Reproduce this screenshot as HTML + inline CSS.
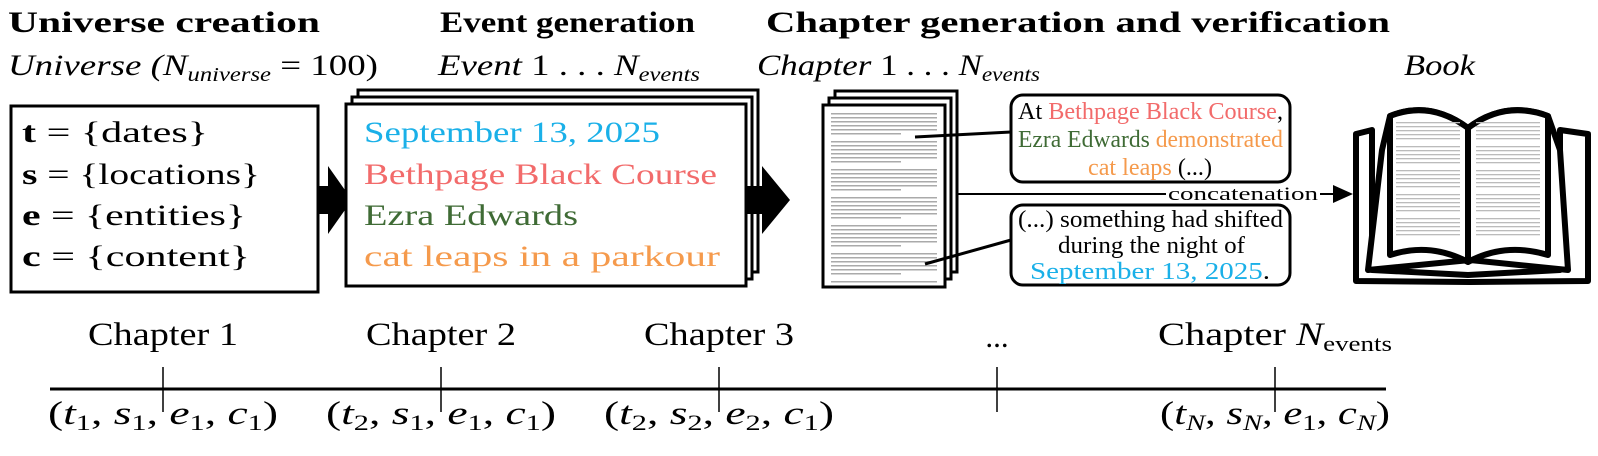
<!DOCTYPE html>
<html><head><meta charset="utf-8"><style>
html,body{margin:0;padding:0;background:#fff;}
svg{display:block;font-family:"Liberation Serif",serif;}
</style></head><body>
<svg id="fig" width="1598" height="456" viewBox="0 0 1598 456">
<g font-weight="bold" font-size="30" fill="#000">
<text x="8" y="32" textLength="312" lengthAdjust="spacingAndGlyphs">Universe creation</text>
<text x="440" y="32" textLength="255" lengthAdjust="spacingAndGlyphs">Event generation</text>
<text x="766" y="32" textLength="624" lengthAdjust="spacingAndGlyphs">Chapter generation and verification</text>
</g>
<g font-style="italic" font-size="30">
<text x="8" y="75" textLength="370" lengthAdjust="spacingAndGlyphs">Universe (<tspan>N</tspan><tspan font-size="20" dy="6">universe</tspan><tspan dy="-6" font-style="normal"> = 100)</tspan></text>
<text x="438" y="75" textLength="262" lengthAdjust="spacingAndGlyphs">Event <tspan font-style="normal">1 . . . </tspan>N<tspan font-size="20" dy="6">events</tspan></text>
<text x="757" y="75" textLength="283" lengthAdjust="spacingAndGlyphs">Chapter <tspan font-style="normal">1 . . . </tspan>N<tspan font-size="20" dy="6">events</tspan></text>
<text x="1404" y="75" textLength="71" lengthAdjust="spacingAndGlyphs">Book</text>
</g>
<rect x="11" y="106" width="307" height="186" fill="#fff" stroke="#000" stroke-width="3"/>
<g font-size="30" lengthAdjust="spacingAndGlyphs">
<text x="22" y="142" textLength="186" lengthAdjust="spacingAndGlyphs"><tspan font-weight="bold">t</tspan> = {dates}</text>
<text x="22" y="184" textLength="238" lengthAdjust="spacingAndGlyphs"><tspan font-weight="bold">s</tspan> = {locations}</text>
<text x="22" y="225" textLength="224" lengthAdjust="spacingAndGlyphs"><tspan font-weight="bold">e</tspan> = {entities}</text>
<text x="22" y="266" textLength="228" lengthAdjust="spacingAndGlyphs"><tspan font-weight="bold">c</tspan> = {content}</text>
</g>
<polygon points="318,186 328,186 328,166 352,200 328,234 328,214 318,214" fill="#000"/>
<g stroke="#000" stroke-width="3" fill="#fff">
<rect x="358" y="90" width="400" height="182"/>
<rect x="352" y="97" width="400" height="182"/>
<rect x="346" y="104" width="400" height="182"/>
</g>
<g font-size="30">
<text x="364" y="142" fill="#1ab0e8" textLength="296" lengthAdjust="spacingAndGlyphs">September 13, 2025</text>
<text x="364" y="184" fill="#f26b6b" textLength="353" lengthAdjust="spacingAndGlyphs">Bethpage Black Course</text>
<text x="364" y="225" fill="#3f6b35" textLength="214" lengthAdjust="spacingAndGlyphs">Ezra Edwards</text>
<text x="364" y="266" fill="#f59a4c" textLength="356" lengthAdjust="spacingAndGlyphs">cat leaps in a parkour</text>
</g>
<polygon points="746,186 762,186 762,166 790,200 762,234 762,214 746,214" fill="#000"/>
<g stroke="#000" stroke-width="3" fill="#fff">
<rect x="835" y="91" width="122" height="181"/>
<rect x="829" y="98" width="122" height="181"/>
<rect x="823" y="105" width="122" height="182"/>
</g>
<g id="doclines" fill="#aaa"></g>
<line x1="915" y1="137" x2="1011" y2="132" stroke="#000" stroke-width="3"/>
<line x1="925" y1="264" x2="1011" y2="240" stroke="#000" stroke-width="3"/>
<rect x="1011" y="95" width="279" height="87" rx="12" fill="#fff" stroke="#000" stroke-width="3"/>
<g font-size="24">
<text x="1018" y="119" textLength="265" lengthAdjust="spacingAndGlyphs">At <tspan fill="#f26b6b">Bethpage Black Course</tspan>,</text>
<text x="1018" y="147" textLength="265" lengthAdjust="spacingAndGlyphs"><tspan fill="#3f6b35">Ezra Edwards</tspan> <tspan fill="#f59a4c">demonstrated</tspan></text>
<text x="1088" y="175" textLength="124" lengthAdjust="spacingAndGlyphs"><tspan fill="#f59a4c">cat leaps</tspan> (...)</text>
</g>
<line x1="958" y1="194" x2="1166" y2="194" stroke="#000" stroke-width="2"/>
<text x="1168" y="200" font-size="19" textLength="150" lengthAdjust="spacingAndGlyphs">concatenation</text>
<line x1="1320" y1="194" x2="1336" y2="194" stroke="#000" stroke-width="2"/>
<polygon points="1333,185 1353,194 1333,203" fill="#000"/>
<rect x="1011" y="205" width="279" height="80" rx="12" fill="#fff" stroke="#000" stroke-width="3"/>
<g font-size="24">
<text x="1018" y="227" textLength="265" lengthAdjust="spacingAndGlyphs">(...) something had shifted</text>
<text x="1058" y="253" textLength="187" lengthAdjust="spacingAndGlyphs">during the night of</text>
<text x="1030" y="279" textLength="240" lengthAdjust="spacingAndGlyphs"><tspan fill="#1ab0e8">September 13, 2025</tspan>.</text>
</g>
<g stroke="#000" stroke-width="6" stroke-linejoin="round" fill="#fff">
<path d="M1356,134 L1372,130 L1372,270 L1468,275 L1560,270 L1560,130 L1588,134 L1588,281 L1470,282 L1356,281 Z"/>
<path d="M1368,270 L1382,150 L1390,116 Q1430,100 1468,128 Q1505,100 1548,116 L1560,150 L1568,270 L1470,260 Z"/>
<path d="M1390,116 L1390,255 Q1430,242 1468,262 L1468,128 Q1430,100 1390,116 Z"/>
<path d="M1468,128 L1468,262 Q1505,242 1548,255 L1548,116 Q1505,100 1468,128 Z"/>
</g>
<g id="booklines" fill="#bbb"></g>
<line x1="50" y1="389" x2="1386" y2="389" stroke="#000" stroke-width="3"/>
<g id="ticks"></g>
</svg>
<script>
const NS='http://www.w3.org/2000/svg';
const chapterLabels=['Chapter 1','Chapter 2','Chapter 3','...','Chapter N'];
const tuples=[['1','1','1','1'],['2','1','1','1'],['2','2','2','1'],null,['N','N','1','N']];
const tickX=[163,441,719,997,1275];
const g=document.getElementById('ticks');
function mk(t,a,txt){const e=document.createElementNS(NS,t);for(const k in a)e.setAttribute(k,a[k]);if(txt!=null)e.textContent=txt;return e;}
chapterLabels.forEach((lab,i)=>{
  const x=tickX[i];
  const tk=mk('line',{x1:x,y1:367,x2:x,y2:412,stroke:'#000','stroke-width':1.5});
  
  
  g.appendChild(tk);
  let t;
  if(lab==='Chapter N'){
    t=mk('text',{x:1158,y:345,'font-size':33,textLength:234,lengthAdjust:'spacingAndGlyphs'});
    t.appendChild(document.createTextNode('Chapter '));
    t.appendChild(mk('tspan',{'font-style':'italic'},'N'));
    t.appendChild(mk('tspan',{'font-size':22,dy:6},'events'));
  } else if(lab==='...'){
    t=mk('text',{x:x,y:347,'text-anchor':'middle','font-size':31},lab);
  } else {
    t=mk('text',{x:x-75,y:345,'font-size':33,textLength:150,lengthAdjust:'spacingAndGlyphs'},lab);
  }
  
  
  g.appendChild(t);
  const tp=tuples[i];
  if(tp){
    const tt=mk('text',{x:x-115,y:424,'font-size':33,textLength:230,lengthAdjust:'spacingAndGlyphs'});
    tt.appendChild(document.createTextNode('('));
    ['t','s','e','c'].forEach((v,j)=>{
      tt.appendChild(mk('tspan',{'font-style':'italic'},v));
      tt.appendChild(mk('tspan',{'font-size':22,dy:6,'font-style':tp[j]==='N'?'italic':'normal'},tp[j]));
      tt.appendChild(mk('tspan',{dy:-6},j<3?', ':')'));
    });
    
    
    g.appendChild(tt);
  }
});
const dl=document.getElementById('doclines');
for(let y=113;y<282;y+=4){ if((y-113)%28===24) continue; dl.appendChild(mk('rect',{x:831,y:y,width:(y%7===0?70:106),height:1.5}));}
const bl=document.getElementById('booklines');
for(let y=122;y<240;y+=4){ if((y-122)%24===20) continue;
  bl.appendChild(mk('rect',{x:1396,y:y,width:64,height:1.3}));
  bl.appendChild(mk('rect',{x:1476,y:y,width:64,height:1.3}));}
</script>
</body></html>
